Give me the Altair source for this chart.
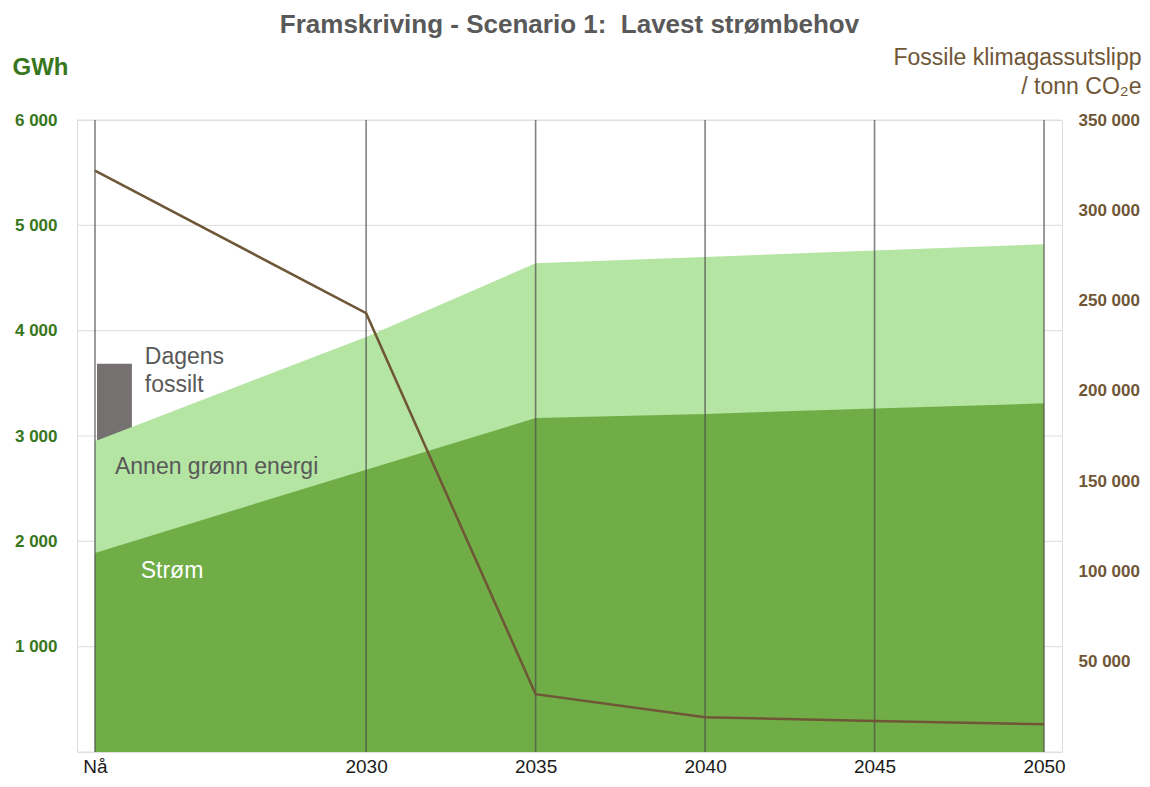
import altair as alt
import pandas as pd

# ---- data ----
years = [2022, 2030, 2035, 2040, 2045, 2050]
tick_labels = ["Nå", "2030", "2035", "2040", "2045", "2050"]
strom = [1890, 2680, 3170, 3210, 3260, 3310]          # GWh, Strøm (top of dark area)
total = [2950, 3940, 4640, 4700, 4760, 4820]          # GWh, Strøm + annen grønn energi
utslipp = [322000, 243000, 32000, 19300, 17100, 15400]  # tonn CO2e

fossil_x = [2022.06]
fossil_x2 = [2023.09]
fossil_y = [2900]
fossil_y2 = [3685]

ann_text = ["Dagens\nfossilt", "Annen grønn energi", "Strøm"]
ann_x = [2023.47, 2022.59, 2023.35]
ann_y = [3685, 2636, 1654]
ann_color = ["#595959", "#595959", "#ffffff"]

left_ticks = [0, 1000, 2000, 3000, 4000, 5000, 6000]
right_ticks = [50000, 100000, 150000, 200000, 250000, 300000, 350000]

FONT = "Liberation Sans"
GREEN_TXT = "#38761D"
BROWN = "#6F5636"

df = pd.DataFrame({"year": years, "strom": strom, "total": total, "utslipp": utslipp})
fossil = pd.DataFrame({"x": fossil_x, "x2": fossil_x2, "y": fossil_y, "y2": fossil_y2})
ann = pd.DataFrame({"text": ann_text, "x": ann_x, "y": ann_y, "color": ann_color})
grid_df = pd.DataFrame({"g": left_ticks})

lab_map = " : ".join(f"datum.value == {y} ? '{l}'" for y, l in zip(years, tick_labels)) + " : ''"

xscale = alt.Scale(domain=[2021.47, 2050.53], nice=False, zero=False)
xaxis = alt.Axis(values=years, labelExpr=lab_map, grid=False, domain=False, ticks=False,
                 labelFontSize=19, labelColor="#1a1a1a", labelPadding=5, title=None,
                 labelFont=FONT, labelBaseline="top")

yscale = alt.Scale(domain=[0, 6000], nice=False)
yaxis = alt.Axis(values=left_ticks,
                 labelExpr="datum.value == 0 ? '' : replace(format(datum.value, ','), ',', ' ')",
                 labelColor=GREEN_TXT, labelFontWeight="bold", labelFontSize=17, labelFont=FONT,
                 labelPadding=20, ticks=False, domain=False, grid=False,
                 title="GWh", titleAngle=0, titleX=-65, titleY=-53, titleAlign="left",
                 titleBaseline="middle", titleColor=GREEN_TXT, titleFontSize=24,
                 titleFontWeight="bold", titleFont=FONT)

base = alt.Chart(df)

hgrid = alt.Chart(grid_df).mark_rule(color="#e2e2e2", strokeWidth=1.2).encode(
    y=alt.Y("g:Q", scale=yscale, axis=yaxis),
)

fossil_bar = alt.Chart(fossil).mark_rect(color="#767171").encode(
    x=alt.X("x:Q", scale=xscale, axis=xaxis),
    x2="x2:Q",
    y=alt.Y("y:Q", scale=yscale, axis=yaxis),
    y2="y2:Q",
)

area_total = base.mark_area(color="#B4E5A2", opacity=1).encode(
    x=alt.X("year:Q", scale=xscale, axis=xaxis),
    y=alt.Y("total:Q", scale=yscale, axis=yaxis),
)

area_strom = base.mark_area(color="#70AD47", opacity=1).encode(
    x=alt.X("year:Q", scale=xscale, axis=xaxis),
    y=alt.Y("strom:Q", scale=yscale, axis=yaxis),
)

vrules = base.mark_rule(color="#4d4d4d", opacity=0.7, strokeWidth=1.6).encode(
    x=alt.X("year:Q", scale=xscale, axis=xaxis),
)

texts = alt.Chart(ann).mark_text(align="left", baseline="alphabetic", fontSize=23,
                                 font=FONT, lineBreak="\n", lineHeight=28).encode(
    x=alt.X("x:Q", scale=xscale, axis=xaxis),
    y=alt.Y("y:Q", scale=yscale, axis=yaxis),
    text="text:N",
    color=alt.Color("color:N", scale=None),
)

left = alt.layer(hgrid, fossil_bar, area_total, area_strom, vrules, texts)

line = base.mark_line(color=BROWN, strokeWidth=2.5).encode(
    x=alt.X("year:Q", scale=xscale, axis=xaxis),
    y=alt.Y("utslipp:Q", scale=alt.Scale(domain=[0, 350000], nice=False),
            axis=alt.Axis(orient="right", values=right_ticks,
                          labelExpr="replace(format(datum.value, ','), ',', ' ')",
                          labelColor=BROWN, labelFontWeight="bold", labelFontSize=17,
                          labelFont=FONT, labelPadding=16, ticks=False, domain=False,
                          grid=False,
                          title=["Fossile klimagassutslipp ", "/ tonn CO₂e"],
                          titleAngle=0, titleX=79, titleY=-56, titleAlign="right",
                          titleBaseline="alphabetic", titleColor=BROWN, titleFontSize=23,
                          titleFontWeight="normal", titleFont=FONT, titleLineHeight=29)),
)

chart = alt.layer(left, line).resolve_scale(y="independent").properties(
    width=985,
    height=632,
    padding={"left": 69, "top": 112, "right": 80, "bottom": 26},
    autosize=alt.AutoSizeParams(type="none"),
    title=alt.TitleParams("Framskriving - Scenario 1:\u00a0 Lavest strømbehov", fontSize=26,
                          fontWeight="bold", color="#595959", font=FONT, offset=8,
                          anchor="middle"),
).configure_view(strokeWidth=0, strokeOpacity=0).configure_axis(
    domain=False, domainOpacity=0, domainWidth=0, tickOpacity=0
).configure(font=FONT)

chart.save("out.html", embed_options={"renderer": "svg", "actions": False})
